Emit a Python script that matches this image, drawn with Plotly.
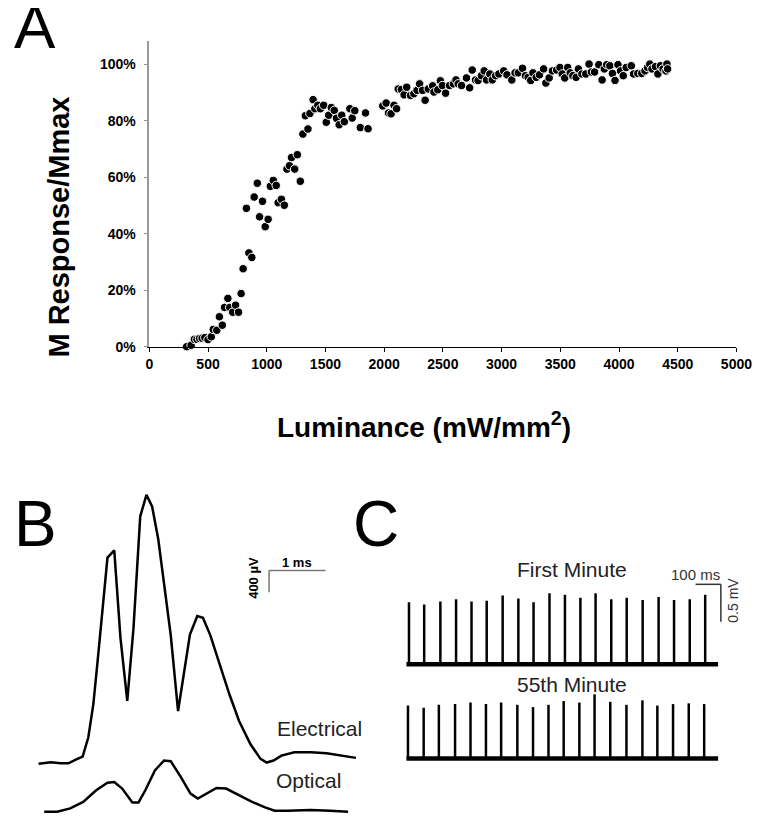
import plotly.graph_objects as go

# ---------------- Panel A data ----------------
luminance = [318, 356, 384, 406, 428, 450, 473, 500, 528, 545, 575, 597, 622, 641, 669, 685, 710, 735, 760, 782,
             799, 827, 848, 873, 893, 920, 939, 964, 987, 1012, 1031, 1056, 1081, 1097, 1125, 1150, 1172, 1194,
             1211, 1238, 1261, 1286, 1308, 1329, 1351, 1368, 1395, 1410, 1435, 1457, 1485, 1507, 1528, 1550,
             1575, 1594, 1617, 1639, 1661, 1708, 1728, 1750, 1797, 1841, 1863, 1988, 2017, 2037, 2059, 2084,
             2106, 2120, 2147, 2170, 2192, 2225, 2253, 2280, 2302, 2327, 2349, 2376, 2413, 2424, 2457, 2479,
             2496, 2523, 2557, 2590, 2612, 2631, 2659, 2701, 2728, 2750, 2778, 2800, 2828, 2852, 2872, 2900,
             2921, 2949, 2977, 3018, 3046, 3087, 3115, 3143, 3178, 3203, 3226, 3248, 3267, 3295, 3323, 3358,
             3377, 3405, 3433, 3469, 3497, 3516, 3538, 3563, 3585, 3607, 3635, 3654, 3684, 3717, 3745, 3765,
             3792, 3828, 3856, 3875, 3895, 3922, 3944, 3966, 3991, 4013, 4036, 4061, 4105, 4124, 4160, 4193,
             4221, 4243, 4262, 4281, 4310, 4331, 4353, 4375, 4400, 4408, 4414]
response_pct = [0.0, 0.5, 2.6, 2.6, 2.9, 3.0, 3.2, 2.5, 3.5, 6.1, 5.8, 10.6, 7.6, 13.9, 17.1, 13.9, 12.2, 14.7, 12.2, 18.8,
                27.6, 49.0, 33.2, 31.6, 53.0, 57.9, 46.0, 51.5, 42.5, 45.1, 56.8, 58.9, 57.1, 51.0, 52.2, 50.1, 62.9, 64.1,
                67.0, 62.9, 68.0, 58.6, 75.3, 81.8, 77.1, 82.6, 87.5, 84.3, 85.5, 84.3, 85.5, 79.5, 82.0, 84.7,
                83.7, 80.9, 78.6, 82.0, 79.7, 84.3, 81.0, 83.6, 77.6, 82.8, 77.2, 85.3, 86.3, 82.8, 82.5, 85.5,
                84.3, 91.3, 91.1, 89.2, 91.9, 89.0, 89.6, 90.8, 93.1, 90.8, 87.3, 91.3, 92.4, 90.2, 91.0, 94.2,
                92.5, 89.8, 92.5, 93.1, 94.5, 93.1, 92.5, 95.2, 91.7, 98.0, 94.5, 94.3, 96.0, 97.7, 94.5, 96.6,
                94.5, 96.0, 96.6, 97.7, 96.3, 94.5, 97.0, 97.0, 98.6, 96.0, 95.4, 94.3, 97.0, 95.4, 96.3, 98.4,
                93.4, 95.2, 97.7, 98.0, 98.9, 96.6, 95.2, 98.9, 97.0, 96.0, 95.4, 98.4, 96.6, 96.6, 100.1, 97.3,
                97.3, 99.9, 94.5, 98.4, 99.9, 99.5, 96.8, 94.3, 99.9, 97.7, 96.0, 98.9, 99.5, 96.6, 96.8, 96.8,
                97.7, 98.9, 100.1, 98.4, 99.2, 96.6, 99.5, 98.4, 97.7, 100.1, 98.4]
x_ticks = [0, 500, 1000, 1500, 2000, 2500, 3000, 3500, 4000, 4500, 5000]
y_ticks = [0, 20, 40, 60, 80, 100]
y_tick_labels = ["0%", "20%", "40%", "60%", "80%", "100%"]

# ---------------- Panel B data (ms, µV above own baseline) ----------------
elec_t = [0, 0.22, 0.39, 0.53, 0.65, 0.78, 0.88, 0.97, 1.05, 1.14, 1.22, 1.34, 1.45, 1.57, 1.68, 1.74, 1.80,
          1.91, 2.01, 2.12, 2.23, 2.34, 2.47, 2.58, 2.68, 2.81, 2.91, 3.04, 3.21, 3.38, 3.55, 3.75, 3.93, 4.04,
          4.16, 4.30, 4.53, 4.82, 5.10, 5.39, 5.62]
elec_uv = [-5, 24, 5, 5, 67, 127, 478, 1091, 1933, 2909, 3782, 3914, 2309, 1149, 2478, 3509, 4540,
           4932, 4722, 4114, 3267, 2358, 964, 1691, 2369, 2709, 2678, 2358, 1813, 1267, 782, 358, 85, 18,
           55, 145, 205, 205, 187, 145, 104]
opt_t = [0.10, 0.33, 0.56, 0.79, 1.02, 1.22, 1.34, 1.48, 1.66, 1.77, 1.89, 2.06, 2.22, 2.34, 2.52, 2.69,
         2.82, 2.98, 3.15, 3.32, 3.55, 3.78, 4.01, 4.18, 4.41, 4.82, 5.16, 5.48]
opt_uv = [5, 5, 67, 187, 400, 540, 551, 431, 176, 176, 400, 764, 945, 933, 642, 340,
          249, 340, 442, 431, 309, 187, 85, 24, 24, 36, 24, 5]

# ---------------- Panel C data (ms, mV) ----------------
first_spike_t = [0, 60, 124, 186, 247, 307, 370, 432, 492, 555, 616, 677, 737, 799, 860, 923, 986, 1047, 1109, 1170]
first_spike_mv = [0.83, 0.80, 0.84, 0.87, 0.84, 0.85, 0.92, 0.88, 0.83, 0.95, 0.93, 0.89, 0.95, 0.87, 0.89, 0.86,
                  0.90, 0.86, 0.87, 0.93]
late_spike_t = [-4, 58, 118, 182, 243, 304, 364, 428, 490, 551, 611, 673, 733, 795, 859, 922, 981, 1043, 1105, 1166]
late_spike_mv = [0.71, 0.68, 0.72, 0.73, 0.75, 0.73, 0.75, 0.72, 0.69, 0.72, 0.77, 0.75, 0.86, 0.76, 0.72, 0.78,
                 0.71, 0.73, 0.74, 0.73]
trace_span_ms = [-10, 1221]

# ---------------- layout geometry (pixels) ----------------
W, H = 761, 817
def fx(p):
    return p / W
def fy(p):
    return 1 - p / H

# Panel B mapping
B_T0_PX, B_PX_PER_MS = 27.3, 58.0
B_BASE_PX, B_PX_PER_UV = 812.0, 22.0 / 400.0
ELEC_OFFSET = (812 - 763) / B_PX_PER_UV
# Panel C mapping
C_T0_PX, C_PX_PER_MS = 407.7, 26.0 / 100.0
C_BASE_PX, C_PX_PER_MV = 662.7, 75.4
LATE_OFFSET = -(758 - 662.7) / C_PX_PER_MV

fig = go.Figure()

# Panel A scatter
fig.add_trace(go.Scatter(
    x=luminance, y=response_pct, mode="markers", cliponaxis=False,
    marker=dict(size=8.5, color="black", line=dict(color="white", width=1)),
    xaxis="x", yaxis="y", showlegend=False))

# Panel B traces
fig.add_trace(go.Scatter(x=elec_t, y=[v + ELEC_OFFSET for v in elec_uv], mode="lines",
                         line=dict(color="black", width=2.5), xaxis="x2", yaxis="y2", showlegend=False))
fig.add_trace(go.Scatter(x=opt_t, y=opt_uv, mode="lines",
                         line=dict(color="black", width=2.5), xaxis="x2", yaxis="y2", showlegend=False))

# Panel C traces
def spikes(ts, amps, base):
    xs, ys = [], []
    for t, a in zip(ts, amps):
        xs += [t, t, None]
        ys += [base, base + a, None]
    return xs, ys

for ts, amps, base in [(first_spike_t, first_spike_mv, 0.0), (late_spike_t, late_spike_mv, LATE_OFFSET)]:
    sx, sy = spikes(ts, amps, base)
    fig.add_trace(go.Scatter(x=sx, y=sy, mode="lines", line=dict(color="black", width=2.5),
                             xaxis="x3", yaxis="y3", showlegend=False, connectgaps=False))
    fig.add_trace(go.Scatter(x=trace_span_ms, y=[base, base], mode="lines", line=dict(color="black", width=4.5),
                             xaxis="x3", yaxis="y3", showlegend=False))

# Scale bars (axis units)
# B: 1 ms x 400 µV
sbx, sby = 4.081, 4436.0
fig.add_shape(type="line", xref="x2", yref="y2", x0=sbx, x1=sbx + 1, y0=sby, y1=sby, line=dict(color="#777", width=1.5))
fig.add_shape(type="line", xref="x2", yref="y2", x0=sbx, x1=sbx, y0=sby, y1=sby - 400, line=dict(color="#777", width=1.5))
# C: 100 ms x 0.5 mV
scx, scy = 1131.9, 1.070
fig.add_shape(type="line", xref="x3", yref="y3", x0=scx, x1=scx + 100, y0=scy, y1=scy, line=dict(color="#333", width=1.5))
fig.add_shape(type="line", xref="x3", yref="y3", x0=scx + 100, x1=scx + 100, y0=scy, y1=scy - 0.5, line=dict(color="#333", width=1.5))

FONT = "Liberation Sans, Arial, sans-serif"
bold_tick = dict(family=FONT, size=14, color="black", weight="bold")

fig.update_layout(
    width=W, height=H, autosize=False,
    margin=dict(l=0, r=0, t=0, b=0),
    paper_bgcolor="white", plot_bgcolor="rgba(0,0,0,0)",
    showlegend=False,
    xaxis=dict(domain=[fx(141), fx(744)], range=[0, 5000], tickvals=x_ticks, ticks="outside", ticklen=4,
               tickcolor="black", showline=True, linecolor="black", linewidth=1.2, showgrid=False,
               zeroline=False, tickfont=bold_tick, anchor="y"),
    yaxis=dict(domain=[fy(342), fy(33)], range=[0, 108.4], tickvals=y_ticks, ticktext=y_tick_labels,
               ticks="outside", ticklen=4, tickcolor="#999", showline=True, linecolor="#999", linewidth=1.5,
               showgrid=False, zeroline=False, tickfont=bold_tick, ticklabelstandoff=5, anchor="x"),
    xaxis2=dict(domain=[0, fx(380)], range=[(0 - B_T0_PX) / B_PX_PER_MS, (380 - B_T0_PX) / B_PX_PER_MS],
                visible=False, anchor="y2"),
    yaxis2=dict(domain=[0, fy(470)], range=[(B_BASE_PX - 817) / B_PX_PER_UV, (B_BASE_PX - 470) / B_PX_PER_UV],
                visible=False, anchor="x2"),
    xaxis3=dict(domain=[fx(380), 1], range=[(380 - C_T0_PX) / C_PX_PER_MS, (761 - C_T0_PX) / C_PX_PER_MS],
                visible=False, anchor="y3"),
    yaxis3=dict(domain=[0, fy(490)], range=[(C_BASE_PX - 817) / C_PX_PER_MV, (C_BASE_PX - 490) / C_PX_PER_MV],
                visible=False, anchor="x3"),
)

def note(text, x, y, size, bold=False, angle=0, color="black", xanchor="center"):
    fig.add_annotation(text=text, x=fx(x), y=fy(y), xref="paper", yref="paper", showarrow=False,
                       xanchor=xanchor, yanchor="middle", textangle=angle,
                       font=dict(family=FONT, size=size, color=color, weight="bold" if bold else "normal"))

note("A", 0, 19, 62, xanchor="left")
note("B", 0, 521, 64, xanchor="left")
note("C", 374, 521, 64)
note("M Response/Mmax", 48, 221, 29, bold=True, angle=-90)
note("Luminance (mW/mm<sup>2</sup>)", 423, 421, 28, bold=True)
note("1 ms", 293, 560, 13, bold=True)
note("400 µV", 248, 575, 13, bold=True, angle=-90)
note("Electrical", 316, 728, 21, color="#222")
note("Optical", 305, 780, 21, color="#222")
note("First Minute", 575, 567, 21, color="#222")
note("55th Minute", 575, 683, 21, color="#222")
note("100 ms", 702, 572, 15, color="#333")
note("0.5 mV", 741, 598, 14, angle=-90, color="#333")

fig.write_html("out.html")
